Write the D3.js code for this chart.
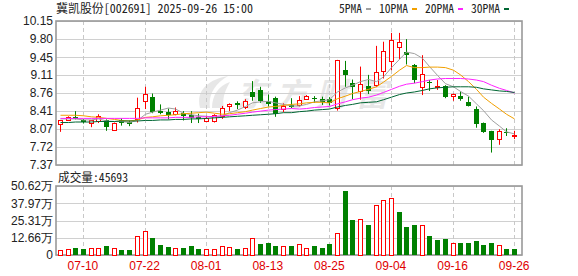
<!DOCTYPE html>
<html>
<head>
<meta charset="utf-8">
<script src="https://cdn.jsdelivr.net/npm/d3@7"></script>
<style>
    body { margin: 0; background: #fff; }
    svg text { font-family: "Liberation Sans", Arial, sans-serif; font-size: 12px; fill: #222; }
    svg text.mono { font-family: "Noto Sans Mono CJK SC", "Noto Sans CJK SC", "Liberation Mono", monospace; }
</style>
</head>
<body>
<svg id="chart" width="578" height="276"></svg>
<script>
// Trading days shown on the chart
const dates = [
    '07-07', '07-08', '07-09', '07-10', '07-11', '07-14', '07-15', '07-16', '07-17', '07-18',
    '07-21', '07-22', '07-23', '07-24', '07-25', '07-28', '07-29', '07-30', '07-31', '08-01',
    '08-04', '08-05', '08-06', '08-07', '08-08', '08-11', '08-12', '08-13', '08-14', '08-15',
    '08-18', '08-19', '08-20', '08-21', '08-22', '08-25', '08-26', '08-27', '08-28', '08-29',
    '09-01', '09-02', '09-03', '09-04', '09-05', '09-08', '09-09', '09-10', '09-11', '09-12',
    '09-15', '09-16', '09-17', '09-18', '09-19', '09-22', '09-23', '09-24', '09-25', '09-26',
];

// OHLC (yuan)
const opens = [
    8.16, 8.24, 8.30, 8.23, 8.18, 8.22, 8.24, 8.06, 8.23, 8.20,
    8.27, 8.61, 8.68, 8.41, 8.39, 8.36, 8.38, 8.33, 8.29, 8.22,
    8.21, 8.32, 8.50, 8.56, 8.50, 8.77, 8.82, 8.61, 8.67, 8.45,
    8.53, 8.53, 8.65, 8.66, 8.64, 8.64, 8.48, 9.20, 8.96, 8.80,
    8.89, 8.91, 9.20, 9.38, 9.65, 9.55, 9.30, 8.88, 8.97, 8.88,
    8.90, 8.71, 8.70, 8.59, 8.46, 8.19, 8.03, 7.87, 8.00, 7.94,
];
const highs = [
    8.24, 8.31, 8.41, 8.26, 8.24, 8.35, 8.25, 8.19, 8.27, 8.23,
    8.67, 8.88, 8.75, 8.54, 8.46, 8.48, 8.41, 8.41, 8.36, 8.32,
    8.35, 8.51, 8.56, 8.60, 8.64, 8.99, 8.88, 8.73, 8.69, 8.56,
    8.66, 8.70, 8.72, 8.70, 8.69, 8.68, 9.40, 9.38, 9.02, 9.27,
    9.11, 9.67, 9.75, 9.92, 9.92, 9.80, 9.32, 9.49, 9.01, 9.01,
    8.91, 8.75, 8.79, 8.69, 8.50, 8.19, 8.03, 8.06, 8.08, 8.03,
];
const lows = [
    8.01, 8.23, 8.25, 8.17, 8.10, 8.18, 8.03, 8.05, 8.13, 8.12,
    8.19, 8.45, 8.37, 8.35, 8.25, 8.33, 8.23, 8.18, 8.18, 8.21,
    8.19, 8.26, 8.41, 8.45, 8.45, 8.61, 8.57, 8.50, 8.30, 8.39,
    8.47, 8.50, 8.63, 8.57, 8.53, 8.52, 8.42, 8.88, 8.64, 8.63,
    8.74, 8.88, 9.04, 9.20, 9.41, 9.31, 8.95, 8.72, 8.80, 8.82,
    8.66, 8.61, 8.61, 8.50, 8.09, 7.99, 7.61, 7.76, 7.93, 7.87,
];
const closes = [
    8.23, 8.30, 8.26, 8.19, 8.23, 8.32, 8.11, 8.19, 8.18, 8.17,
    8.48, 8.75, 8.39, 8.38, 8.33, 8.41, 8.33, 8.27, 8.26, 8.28,
    8.33, 8.48, 8.54, 8.52, 8.61, 8.68, 8.61, 8.56, 8.37, 8.50,
    8.49, 8.63, 8.70, 8.64, 8.59, 8.57, 9.40, 9.11, 8.88, 8.93,
    8.80, 9.16, 9.58, 9.78, 9.74, 9.50, 9.02, 9.13, 8.96, 8.90,
    8.69, 8.74, 8.64, 8.51, 8.18, 8.01, 7.85, 8.03, 7.99, 7.95,
];

// Volume (万手)
const volumes = [
    3.65, 4.2, 5.3, 4.6, 5.1, 5.1, 6.6, 5.1, 3.65, 3.9,
    13.6, 17.5, 12.4, 7.3, 5.8, 5.1, 5.1, 6.6, 4.6, 4.4,
    4.4, 6.3, 5.8, 4.6, 5.1, 12.4, 8.0, 8.8, 6.6, 6.6,
    6.6, 7.8, 4.9, 6.6, 5.1, 8.0, 15.8, 46.8, 25.6, 26.1,
    21.9, 36.5, 40.7, 42.1, 31.7, 20.5, 21.9, 21.7, 13.9, 11.0,
    11.7, 8.5, 8.5, 8.5, 10.2, 7.3, 8.5, 7.1, 4.4, 4.5693,
];

// Moving averages as drawn
const ma5 = [
    8.26, 8.26, 8.26, 8.24, 8.24, 8.26, 8.22, 8.21, 8.21, 8.19,
    8.23, 8.35, 8.39, 8.43, 8.47, 8.45, 8.37, 8.34, 8.32, 8.31,
    8.29, 8.32, 8.38, 8.43, 8.50, 8.57, 8.59, 8.60, 8.57, 8.54,
    8.51, 8.51, 8.54, 8.59, 8.61, 8.63, 8.78, 8.86, 8.91, 8.98,
    9.02, 8.98, 9.07, 9.25, 9.41, 9.55, 9.52, 9.43, 9.27, 9.10,
    8.94, 8.88, 8.79, 8.70, 8.55, 8.42, 8.24, 8.12, 8.01, 7.97,
];
const ma10 = [
    8.33, 8.33, 8.33, 8.32, 8.30, 8.29, 8.27, 8.25, 8.23, 8.22,
    8.24, 8.29, 8.30, 8.32, 8.33, 8.34, 8.36, 8.37, 8.38, 8.39,
    8.37, 8.35, 8.36, 8.38, 8.40, 8.43, 8.46, 8.49, 8.50, 8.52,
    8.54, 8.55, 8.57, 8.58, 8.58, 8.57, 8.65, 8.70, 8.75, 8.79,
    8.83, 8.88, 8.97, 9.08, 9.20, 9.29, 9.25, 9.25, 9.26, 9.26,
    9.25, 9.20, 9.11, 8.98, 8.83, 8.68, 8.56, 8.45, 8.35, 8.26,
];
const ma20 = [
    8.27, 8.27, 8.27, 8.27, 8.27, 8.27, 8.27, 8.27, 8.27, 8.27,
    8.27, 8.28, 8.28, 8.28, 8.28, 8.29, 8.29, 8.29, 8.30, 8.30,
    8.31, 8.32, 8.33, 8.35, 8.37, 8.39, 8.41, 8.43, 8.44, 8.45,
    8.46, 8.45, 8.46, 8.48, 8.49, 8.50, 8.55, 8.59, 8.63, 8.66,
    8.68, 8.72, 8.77, 8.83, 8.89, 8.93, 8.95, 8.98, 9.01, 9.03,
    9.04, 9.04, 9.04, 9.03, 9.01, 8.98, 8.91, 8.85, 8.81, 8.76,
];
const ma30 = [
    8.19, 8.19, 8.20, 8.20, 8.20, 8.21, 8.21, 8.21, 8.22, 8.22,
    8.22, 8.23, 8.23, 8.24, 8.24, 8.25, 8.25, 8.26, 8.26, 8.27,
    8.28, 8.29, 8.30, 8.31, 8.32, 8.33, 8.34, 8.35, 8.36, 8.38,
    8.38, 8.40, 8.41, 8.43, 8.44, 8.45, 8.49, 8.52, 8.54, 8.57,
    8.58, 8.59, 8.63, 8.68, 8.73, 8.76, 8.78, 8.81, 8.84, 8.86,
    8.87, 8.88, 8.88, 8.88, 8.87, 8.84, 8.82, 8.80, 8.79, 8.77,
];

// Axis ticks
const priceTicks = [7.37, 7.72, 8.07, 8.41, 8.76, 9.11, 9.45, 9.80, 10.15];
const volumeTicks = [0, 12.66, 25.31, 37.97, 50.62];
const dateTicks = ['07-10', '07-22', '08-01', '08-13', '08-25', '09-04', '09-16', '09-26'];

const titleText = '冀凯股份[002691] 2025-09-26 15:00';
const volumeTitle = '成交量';
const lastVolume = 45693;
const maNames = ['5PMA', '10PMA', '20PMA', '30PMA'];
const maColors = ['#a0a0a0', '#f2a000', '#ff22ff', '#006633'];

const RED = '#ff0000';
const GREEN = '#008000';

let svg = d3.select('#chart');

// Plot frames
let left = 56, right = 522;
let priceTop = 21, priceBottom = 165;
let volTop = 186, volBottom = 255;

let x = d3.scaleBand().domain(dates).range([56, 518]);
let cx = (d) => Math.round(x(d) + x.bandwidth() / 2);
let yPrice = d3.scaleLinear().domain([7.37, 10.15]).range([priceBottom, priceTop]);
let yVol = d3.scaleLinear().domain([0, 50.62]).range([volBottom, volTop]);

// Build rows
let rows = dates.map((d, i) => ({
    date: d,
    open: opens[i],
    high: highs[i],
    low: lows[i],
    close: closes[i],
    volume: volumes[i],
    up: closes[i] >= opens[i],
    volUp: i === 0 ? closes[i] >= opens[i] : closes[i] >= closes[i - 1],
}));

// Watermark: swoosh + name
let mark = svg.append('g').style('opacity', 0.09);
mark.append('path')
    .attr('d', 'M200,108 C196,92 206,80 228,76 C214,84 208,96 210,108 Z')
    .attr('fill', '#000');
mark.append('path')
    .attr('d', 'M212,108 C212,96 218,86 230,82 C224,92 222,100 224,108 Z')
    .attr('fill', '#000');
mark.append('text')
    .attr('x', 236)
    .attr('y', 106)
    .style('font-family', '"Noto Sans CJK SC", sans-serif')
    .style('font-size', '32px')
    .style('font-weight', 'bold')
    .style('font-style', 'italic')
    .style('letter-spacing', '8px')
    .style('fill', '#000')
    .text('东方财富');

// Horizontal grid
svg.append('g')
    .selectAll('line')
    .data(priceTicks)
    .enter()
    .append('line')
    .attr('x1', left)
    .attr('x2', right)
    .attr('y1', (d) => Math.round(yPrice(d)) + 0.5)
    .attr('y2', (d) => Math.round(yPrice(d)) + 0.5)
    .attr('stroke', '#d0d0d0');

svg.append('g')
    .selectAll('line')
    .data(volumeTicks)
    .enter()
    .append('line')
    .attr('x1', left)
    .attr('x2', right)
    .attr('y1', (d) => Math.round(yVol(d)) + 0.5)
    .attr('y2', (d) => Math.round(yVol(d)) + 0.5)
    .attr('stroke', '#d0d0d0');

// Vertical dashed grid
[[priceTop, priceBottom], [volTop, volBottom]].forEach((r) => {
    svg.append('g')
        .selectAll('line')
        .data(dateTicks)
        .enter()
        .append('line')
        .attr('x1', (d) => cx(d) + 0.5)
        .attr('x2', (d) => cx(d) + 0.5)
        .attr('y1', r[0])
        .attr('y2', r[1])
        .attr('stroke', '#c8c8c8')
        .attr('stroke-dasharray', '4,3');
});

// Frames
[[priceTop, priceBottom], [volTop, volBottom]].forEach((r) => {
    svg.append('rect')
        .attr('x', left)
        .attr('y', r[0])
        .attr('width', right - left)
        .attr('height', r[1] - r[0])
        .attr('fill', 'none')
        .attr('stroke', '#999')
        .attr('stroke-width', 1.6);
});

// Candles
let candles = svg.append('g')
    .selectAll('g')
    .data(rows)
    .enter()
    .append('g');

candles.append('line')
    .attr('x1', (d) => cx(d.date) + 0.5)
    .attr('x2', (d) => cx(d.date) + 0.5)
    .attr('y1', (d) => yPrice(d.high))
    .attr('y2', (d) => yPrice(d.low))
    .attr('stroke', (d) => (d.up ? RED : GREEN));

candles.append('rect')
    .attr('x', (d) => (d.up ? cx(d.date) - 1.5 : cx(d.date) - 2))
    .attr('width', (d) => (d.up ? 4 : 5))
    .attr('y', (d) => Math.round(yPrice(Math.max(d.open, d.close))) + (d.up ? 0.5 : 0))
    .attr('height', (d) => Math.max(1, Math.round(Math.abs(yPrice(d.open) - yPrice(d.close)))))
    .attr('fill', (d) => (d.up ? '#fff' : GREEN))
    .attr('stroke', (d) => (d.up ? RED : 'none'));

// Moving averages
let maSeries = [ma5, ma10, ma20, ma30];
let maLine = d3.line()
    .x((d, i) => cx(dates[i]) + 0.5)
    .y((d) => yPrice(d));

svg.append('g')
    .selectAll('path')
    .data(maSeries)
    .enter()
    .append('path')
    .attr('d', (d) => maLine(d))
    .attr('fill', 'none')
    .attr('stroke', (d, i) => maColors[i])
    .attr('stroke-width', 1);

// Volume bars
svg.append('g')
    .selectAll('rect')
    .data(rows)
    .enter()
    .append('rect')
    .attr('x', (d) => (d.volUp ? cx(d.date) - 1.5 : cx(d.date) - 2))
    .attr('width', (d) => (d.volUp ? 4 : 5))
    .attr('y', (d) => Math.round(yVol(d.volume)) + (d.volUp ? 0.5 : 0))
    .attr('height', (d) => volBottom - Math.round(yVol(d.volume)))
    .attr('fill', (d) => (d.volUp ? '#fff' : GREEN))
    .attr('stroke', (d) => (d.volUp ? RED : 'none'));

// Price axis
let priceAxis = svg.append('g')
    .attr('transform', 'translate(' + (left - 3) + ',0)')
    .call(d3.axisLeft(yPrice).tickValues(priceTicks).tickSize(0).tickPadding(0).tickFormat((d) => d.toFixed(2)));
priceAxis.select('.domain').remove();
priceAxis.selectAll('text').style('font-size', '12px').style('fill', '#222');

// Volume axis
let volAxis = svg.append('g')
    .attr('transform', 'translate(' + (left - 3) + ',0)')
    .call(d3.axisLeft(yVol).tickValues(volumeTicks).tickSize(0).tickPadding(0)
        .tickFormat((d) => (d === 0 ? '0' : d.toFixed(2) + '万')));
volAxis.select('.domain').remove();
volAxis.selectAll('text').style('font-size', '12px').style('fill', '#222');

// Date axis
let dateAxis = svg.append('g')
    .attr('transform', 'translate(0,' + volBottom + ')')
    .call(d3.axisBottom(x).tickValues(dateTicks).tickSize(0).tickPadding(6));
dateAxis.select('.domain').remove();
dateAxis.selectAll('text').style('font-size', '12px').style('fill', '#e00000');

// Title
svg.append('text')
    .attr('class', 'mono')
    .attr('x', 56)
    .attr('y', 13)
    .attr('textLength', 197)
    .attr('lengthAdjust', 'spacingAndGlyphs')
    .text(titleText);

svg.append('text')
    .attr('class', 'mono')
    .attr('x', 58)
    .attr('y', 182)
    .attr('textLength', 70)
    .attr('lengthAdjust', 'spacingAndGlyphs')
    .text(volumeTitle + ':' + lastVolume);

// Legend
let cursor = 339;
maNames.forEach((name, i) => {
    let w = name.length * 6;
    svg.append('text')
        .attr('class', 'mono')
        .attr('x', cursor)
        .attr('y', 13)
        .attr('textLength', w - 1)
        .attr('lengthAdjust', 'spacingAndGlyphs')
        .text(name);
    svg.append('rect')
        .attr('x', cursor + w + 3)
        .attr('y', 8)
        .attr('width', 5)
        .attr('height', 2)
        .attr('fill', maColors[i]);
    cursor += w + 3 + 5 + 8;
});
</script>
</body>
</html>
